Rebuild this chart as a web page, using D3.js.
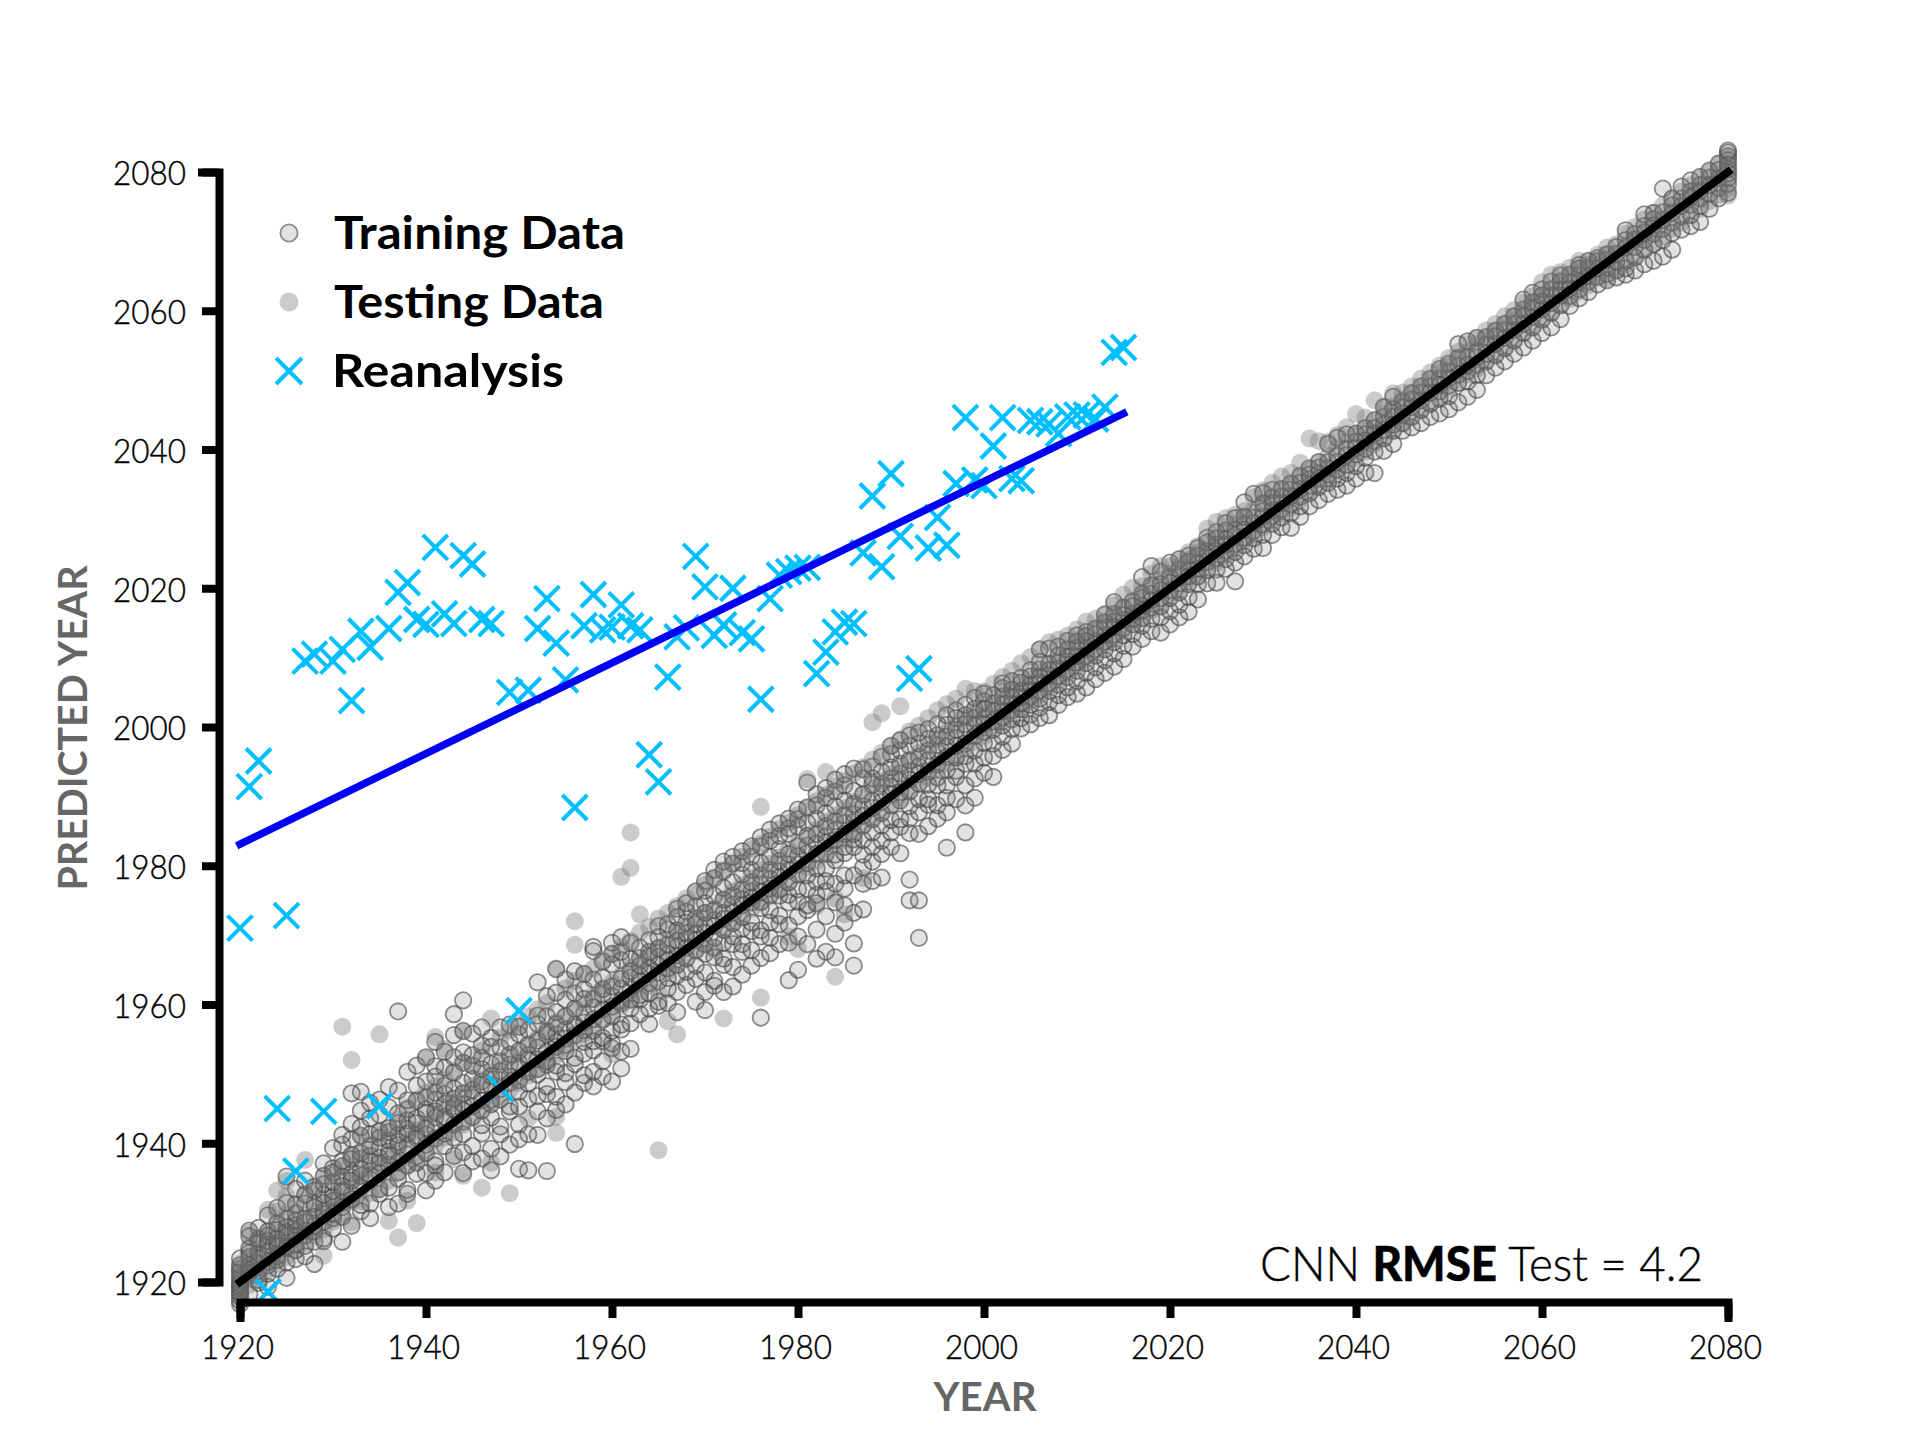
<!DOCTYPE html>
<html><head><meta charset="utf-8">
<script src="https://cdn.jsdelivr.net/npm/d3@7"></script>
<style>html,body{margin:0;background:#fff}svg{display:block}</style></head>
<body><svg id="c" width="1920" height="1440"></svg>
<script>
const xTicks=[1920,1940,1960,1980,2000,2020,2040,2060,2080];
const yTicks=[1920,1940,1960,1980,2000,2020,2040,2060,2080];
const reanalysisYears=[1920,1921,1922,1923,1924,1925,1926,1927,1928,1929,1930,1931,1932,1933,1934,1935,1936,1937,1938,1939,1940,1941,1942,1943,1944,1945,1946,1947,1948,1949,1950,1951,1952,1953,1954,1955,1956,1957,1958,1959,1960,1961,1962,1963,1964,1965,1966,1967,1968,1969,1970,1971,1972,1973,1974,1975,1976,1977,1978,1979,1980,1981,1982,1983,1984,1985,1986,1987,1988,1989,1990,1991,1992,1993,1994,1995,1996,1997,1998,1999,2000,2001,2002,2003,2004,2005,2006,2007,2008,2009,2010,2011,2012,2013,2014,2015];
const reanalysisPred=[1971,1991.4,1995.1,1918.6,1945,1972.8,1936,2009.5,2010.5,1944.6,2009.5,2011.2,2003.8,2013.8,2011.5,1945.4,2014.2,2019.4,2020.8,2015.5,2014.8,2025.9,2016.3,2014.9,2024.7,2023.5,2015.5,2014.9,1947.9,2005,1959.1,2005.3,2014.2,2018.5,2012.1,2006.8,1988.4,2014.6,2019.1,2014,2014.4,2017.6,2014.6,2014,1996,1992.1,2007.2,2013,2014.3,2024.6,2020.2,2013.2,2014.7,2020,2013.6,2012.7,2004,2018.5,2021.9,2022.4,2022.9,2023,2007.7,2010.8,2013.7,2015.1,2014.9,2025.1,2033.3,2023.1,2036.5,2027.5,2007,2008.4,2025.8,2030.2,2026.2,2035.1,2044.6,2035.6,2034.8,2040.5,2044.6,2035.8,2035.5,2044.2,2044,2043.7,2042.3,2044.7,2045,2045,2044.4,2046.1,2054,2054.7];
const trendYears=[1920,2015];
const trendPred=[1983.1,2045.2];
const oneToOne=[1920,2080];
// Training predictions, one list per year
const train1920s=[[1916.8,1917.3,1917.9,1918.3,1918.6,1919.1,1919.4,1919.8,1920.3,1920.8,1921.4,1921.9,1922.4,1923.4],[1918.2,1920.9,1921.3,1921.7,1922.4,1923.6,1924.2,1924.8,1926.6,1927.4],[1919.9,1920.3,1921.6,1922.7,1923.3,1924.1,1925.8,1926.2,1927.8],[1919.3,1921.2,1922.4,1922.9,1924.3,1925.4,1925.9,1926.7,1927.3,1929.6],[1921.9,1923.2,1923.7,1925.1,1925.6,1926.3,1927.5,1928.4,1930.7],[1920.6,1922.8,1924.9,1925.2,1926.6,1927.2,1927.9,1929.1,1931.4,1935.2],[1923.3,1924.6,1925.4,1926.7,1927.3,1928.2,1928.8,1929.9,1931.2,1933.4],[1923.7,1925.2,1926.7,1927.4,1928.6,1929.1,1931.3,1932.6,1934.6],[1922.6,1925.8,1927.3,1928.1,1929.4,1930.7,1931.3,1933.2,1933.7],[1925.9,1926.3,1928.7,1929.8,1930.2,1931.4,1932.6,1934.1,1935.3,1937.1]];
const train1930s=[[1927.7,1929.2,1929.8,1931.7,1932.3,1933.1,1934.4,1935.8,1936.4,1939.3],[1925.8,1929.4,1930.8,1931.4,1933.1,1933.8,1935.2,1936.7,1937.4,1939.8,1941.2],[1928.1,1931.9,1932.6,1934.6,1935.1,1935.7,1937.7,1938.3,1940.6,1942.8,1947.2],[1930.2,1931.1,1933.6,1935.3,1936.2,1937.8,1938.6,1941.1,1942.3,1944.7,1947.4],[1929.2,1931.3,1934.8,1935.4,1937.4,1938.2,1939.6,1941.3,1943.6,1945.8],[1932.7,1933.4,1935.7,1937.2,1937.9,1939.3,1940.8,1941.7,1944.1,1946.3],[1930.8,1933.6,1936.9,1938.3,1938.8,1940.4,1941.6,1942.2,1945.2,1948.1],[1931.3,1934.9,1935.8,1937.3,1939.7,1940.2,1941.2,1942.9,1944.3,1947.6,1959],[1932.7,1933.3,1936.8,1938.4,1939.6,1941.4,1942.1,1943.3,1944.9,1946.2,1950.3],[1935.6,1937.2,1938.1,1940.7,1941.1,1942.9,1943.6,1946.1,1948.3,1951.2]];
const train1940s=[[1933.2,1935.7,1938.6,1939.8,1941.3,1942.2,1944.4,1944.9,1946.6,1948.9,1952.4],[1934.6,1936.8,1937.4,1940.7,1942.1,1943.7,1944.6,1946.3,1947.3,1949.6,1951.1,1954.6],[1935.8,1939.6,1941.4,1943.2,1943.8,1945.7,1947.1,1948.3,1950.9,1953.2],[1938.2,1940.8,1942.7,1944.9,1945.3,1946.4,1947.9,1950.2,1952.4,1955.6,1958.6],[1935.7,1938.7,1941.3,1943.1,1944.7,1945.6,1947.2,1948.7,1951.6,1953.1,1956.2,1960.6],[1937.4,1939.6,1943.8,1945.3,1946.6,1947.7,1949.3,1951.2,1952.7,1955.8],[1937.8,1941.4,1942.6,1944.7,1946.2,1948.4,1948.9,1950.7,1952.3,1954.1,1956.7],[1936.1,1939.2,1943.7,1945.6,1946.3,1948.2,1949.7,1951.4,1953.9,1955.2],[1938.1,1941.3,1942.4,1946.3,1947.8,1949.1,1950.4,1951.8,1953.8,1956.7],[1939.8,1944.6,1945.3,1948.7,1949.6,1951.3,1952.8,1954.6,1957.1]];
const train1950s=[[1936.3,1940.6,1942.7,1945.3,1947.4,1949.1,1950.7,1951.6,1953.3,1955.7,1956.8],[1936.1,1941.3,1946.4,1948.6,1950.3,1952.1,1952.7,1954.2,1956.3],[1941.2,1944.6,1946.8,1949.9,1950.7,1952.1,1953.8,1954.8,1957.2,1958.4,1963.2],[1936,1943.6,1947.1,1948.2,1951.3,1951.8,1953.2,1955.7,1956.1,1958.3,1961.2],[1944.8,1946.7,1950.3,1951.2,1953.9,1954.6,1955.7,1957.2,1958.9,1961.7,1965.1],[1945.6,1948.8,1950.1,1953.3,1954.2,1955.1,1956.4,1958.3,1960.7,1963.6],[1939.9,1947.3,1951.4,1952.3,1955.6,1956.7,1957.1,1959.4,1961.6,1964.8],[1948.7,1949.8,1952.9,1954.6,1956.3,1957.4,1958.7,1960.8,1962.2,1964.4],[1948.2,1950.3,1953.4,1954.7,1956.2,1957.9,1959.6,1960.8,1963.6,1967.7,1968.3],[1949.6,1951.8,1954.7,1955.2,1957.8,1959.3,1961.4,1962.2,1963.9,1966.2]];
const train1960s=[[1948.9,1953.7,1954.4,1956.2,1958.3,1959.7,1961.2,1962.6,1965.8,1967.3,1968.9],[1950.8,1953.2,1956.4,1957.1,1960.2,1960.6,1962.3,1963.7,1966.4,1967.6,1969.7],[1953.6,1957.3,1959.4,1960.7,1962.2,1963.9,1964.8,1966.6,1968.9],[1958.6,1960.7,1961.4,1963.3,1964.2,1965.6,1966.7,1968.2],[1957.2,1959.4,1961.6,1963.1,1964.4,1965.3,1966.9,1967.6,1969.3],[1959.8,1960.4,1963.3,1964.6,1965.7,1966.9,1968.1,1969.7,1971.3],[1960.2,1962.3,1963.8,1965.2,1966.4,1967.3,1968.6,1970.8,1971.6],[1958.9,1961.8,1964.2,1965.7,1967.1,1968.3,1969.2,1970.7,1972.6,1973.8],[1962.8,1964.7,1966.6,1968.2,1969.4,1970.3,1971.8,1973.4,1974.6],[1960.4,1963.7,1965.6,1967.8,1969.3,1970.2,1971.6,1972.4,1974.2,1976.3]];
const train1970s=[[1959.2,1961.8,1964.6,1967.3,1968.7,1970.3,1971.4,1973.2,1974.6,1976.4,1977.8],[1962.7,1963.4,1966.8,1968.2,1969.6,1971.3,1972.2,1973.6,1975.7,1978.2,1979.4],[1961.8,1965.7,1966.6,1968.9,1970.8,1972.3,1973.2,1975.1,1976.8,1979.2,1980.6],[1962.6,1965.4,1968.7,1969.8,1971.7,1973.2,1974.4,1975.7,1977.6,1980.3,1981.3],[1964.3,1967.6,1968.7,1970.9,1972.6,1974.3,1975.2,1976.6,1978.7,1980.4,1982.1],[1965.6,1967.8,1970.6,1971.8,1974.7,1975.4,1976.3,1977.6,1979.4,1981.3,1982.8],[1958.1,1966.7,1969.8,1970.7,1973.9,1974.8,1976.2,1977.3,1978.6,1980.4,1982.8,1984.1],[1967.4,1969.6,1971.8,1973.6,1975.7,1976.7,1978.1,1979.4,1981.3,1983.6,1985.2],[1968.7,1971.6,1972.8,1975.7,1976.6,1978.3,1979.2,1980.7,1982.4,1984.3,1986.1],[1963.5,1968.9,1971.4,1974.7,1975.8,1977.6,1979.3,1980.2,1981.7,1984.6,1985.4,1986.8]];
const train1980s=[[1965,1969.8,1972.7,1974.8,1976.6,1978.7,1980.2,1981.4,1982.8,1985.6,1986.7,1988.1],[1968.7,1973.6,1974.3,1976.7,1978.6,1980.4,1981.8,1982.9,1984.3,1986.2,1988.4,1992],[1966.6,1970.8,1974.6,1975.8,1977.7,1979.6,1981.7,1983.2,1984.6,1986.8,1988.7,1990.3],[1967.6,1972.7,1976.3,1977.8,1979.6,1981.7,1983.3,1984.2,1985.7,1987.6,1989.8,1991.2],[1966.8,1970.2,1974.7,1977.4,1980.8,1981.6,1983.7,1985.2,1986.4,1988.6,1990.7,1992.4],[1971.8,1974.3,1976.7,1978.6,1981.8,1982.7,1984.6,1986.2,1987.3,1989.4,1991.6,1993.2],[1965.6,1968.8,1973.2,1978.6,1982.7,1983.8,1984.6,1986.3,1987.4,1988.9,1990.8,1994],[1973.7,1977.4,1979.8,1981.6,1983.7,1985.8,1987.2,1988.6,1990.3,1992.6,1993.9],[1977.8,1980.6,1982.7,1984.8,1986.7,1988.3,1989.4,1991.7,1992.6,1994.3],[1978.3,1981.7,1983.6,1985.8,1987.6,1989.2,1990.4,1991.8,1993.6,1995.7]];
const train1990s=[[1982.7,1984.8,1986.6,1988.7,1990.3,1991.4,1992.6,1994.2,1996.1,1997.3],[1981.8,1985.6,1986.7,1989.4,1990.6,1992.2,1993.3,1994.7,1996.6,1998.1],[1975,1978,1984.7,1986.8,1988.6,1990.7,1992.4,1993.6,1995.2,1997.3,1998.8],[1969.6,1975,1984.6,1987.7,1989.6,1991.8,1993.2,1994.3,1995.7,1997.6,1999.2],[1985.7,1988.8,1989.6,1991.7,1993.6,1995.2,1996.6,1998.3,1999.7],[1986.8,1988.7,1991.6,1992.7,1994.6,1996.3,1997.4,1998.8,2000.4],[1982.6,1987.7,1989.8,1991.6,1993.8,1995.7,1997.2,1998.6,2000.3,2001.7],[1989.6,1992.8,1993.7,1995.6,1997.3,1998.4,1999.6,2001.3,2002.4],[1984.8,1988.7,1991.6,1994.7,1995.8,1997.6,1999.2,2000.4,2001.7,2003.2],[1989.8,1992.6,1994.7,1996.6,1998.7,2000.2,2001.3,2002.6,2004.2]];
const train2000s=[[1993.4,1995.6,1997.7,1999.3,2000.4,2001.2,2002.6,2003.7,2004.8],[1992.8,1995.8,1997.6,1999.6,2000.8,2002.3,2003.4,2004.6],[1996.7,1998.6,2000.2,2001.4,2002.3,2003.2,2004.4,2005.6,2006.3],[1997.6,1999.7,2001.1,2002.4,2003.3,2004.2,2005.4,2006.6],[1999.8,2001.3,2002.6,2003.4,2004.3,2005.2,2006.4,2007.1],[2000.4,2001.8,2003.2,2004.4,2005.3,2006.1,2007.3,2008.2],[2001.3,2002.8,2004.1,2005.3,2006.4,2007.2,2008.3,2009.4,2011.2],[2001.7,2003.6,2005.2,2006.3,2007.4,2008.2,2009.1,2011.3],[2003.2,2004.6,2006.1,2007.3,2008.4,2009.2,2010.3,2011.6],[2004.3,2005.7,2007.2,2008.3,2009.4,2010.1,2011.2,2012.4]];
const train2010s=[[2004.8,2006.6,2008.1,2009.3,2010.2,2011.4,2012.3,2013.2],[2005.7,2007.8,2009.2,2010.3,2011.2,2012.4,2013.1,2013.7],[2006.9,2008.6,2010.3,2011.2,2012.3,2013.4,2014.2],[2007.8,2009.6,2011.2,2012.3,2013.2,2014.3,2015.1,2016.2],[2008.7,2010.6,2012.2,2013.3,2014.4,2015.2,2016.3,2018],[2009.8,2011.7,2013.2,2014.3,2015.4,2016.1,2017.2],[2011.6,2013.4,2014.8,2015.6,2016.3,2017.4,2018.1],[2012.7,2014.6,2015.7,2016.8,2017.5,2018.6,2019.2,2021.6],[2013.8,2015.6,2017.2,2018.3,2019.2,2020.4,2023.2],[2013.6,2015.8,2017.4,2018.6,2019.7,2020.6,2022.4]];
const train2020s=[[2014.8,2016.7,2018.6,2019.7,2020.8,2021.6,2023.7],[2015.8,2017.6,2019.4,2020.7,2021.6,2022.7,2024.2],[2016.6,2018.7,2020.6,2021.7,2022.6,2023.8,2024.7],[2018.4,2020.6,2021.7,2022.8,2023.6,2024.7,2025.8],[2020.7,2022.6,2023.8,2024.7,2025.4,2026.6,2027.3],[2020.8,2022.7,2024.3,2025.4,2026.3,2027.2,2028.1],[2022.8,2024.2,2025.4,2026.3,2027.1,2028.3,2029.4],[2021,2023.7,2025.2,2026.4,2027.6,2028.4,2030.1],[2024.6,2026.2,2027.3,2028.4,2029.2,2030.3,2032.4],[2025.7,2027.2,2028.3,2029.4,2030.2,2033.6]];
const train2030s=[[2025.8,2027.7,2029.2,2030.3,2031.1,2032.2,2033.7],[2027.7,2029.3,2030.4,2031.2,2032.3,2033.1,2034.2],[2028.8,2030.2,2031.4,2032.3,2033.2,2034.3],[2028.7,2030.8,2032.1,2033.3,2034.2,2035.1],[2030.3,2031.8,2033.2,2034.3,2035.2,2036.2],[2031.8,2033.7,2034.8,2035.7,2036.4,2037.3],[2032.7,2034.6,2035.8,2036.6,2037.4,2038.2],[2033.6,2035.2,2036.4,2037.3,2038.2,2040.8],[2034.2,2035.8,2037.1,2038.2,2039.1,2041.7],[2034.8,2036.6,2037.8,2039.2,2040.1,2042.2]];
const train2040s=[[2035.8,2037.6,2039.3,2040.2,2041.1,2042.3],[2036.7,2038.8,2040.1,2041.3,2042.2,2043.1],[2036.6,2039.7,2041.2,2042.3,2043.1,2044.2],[2039.8,2041.6,2042.8,2043.6,2044.7,2046.1],[2040.8,2042.7,2043.6,2044.7,2045.8,2047.6],[2042.7,2043.8,2045.2,2046.1,2046.9],[2043.2,2044.7,2046.1,2047.2,2048.1],[2043.8,2045.7,2047.1,2048.2,2049.1],[2044.7,2046.6,2048.2,2049.1,2050.2],[2045.2,2047.3,2048.4,2049.3,2050.2,2051.6]];
const train2050s=[[2045.8,2047.7,2049.2,2050.3,2051.2,2052.4],[2046.8,2049.6,2050.8,2052.1,2053.2,2055.2],[2047.6,2049.8,2051.3,2052.2,2053.3,2055.6],[2048.6,2050.7,2052.2,2053.3,2054.1,2056.1],[2050.7,2052.7,2053.8,2055.1,2056.2],[2051.8,2053.6,2055.2,2056.3,2057.1],[2052.7,2054.6,2056.1,2057.2,2058.1],[2053.8,2055.7,2057.2,2058.1,2059.2],[2054.7,2056.8,2058.1,2059.2,2060.2,2061.6],[2055.7,2057.6,2059.1,2060.3,2061.2,2062.6]];
const train2060s=[[2056.8,2058.7,2060.2,2061.3,2062.2,2063.1],[2057.6,2059.7,2061.1,2062.2,2063.1,2064.2],[2058.8,2060.8,2062.2,2063.1,2064.2,2065.1],[2060.7,2062.1,2063.2,2064.1,2065.2],[2061.8,2063.1,2064.2,2065.1,2066.1,2066.6],[2062.7,2064.2,2065.1,2066.1,2067.2],[2063.8,2064.9,2066.1,2067.2,2067.6],[2064.4,2065.3,2066.2,2067.3,2068.1],[2064.8,2065.8,2067.1,2068.2,2069.2],[2065.2,2066.1,2067.2,2069.1,2070.2,2071.6]];
const train2070s=[[2065.8,2067.7,2069.2,2070.3,2071.1],[2066.7,2068.8,2070.2,2071.3,2072.2,2073.9],[2067.2,2069.6,2071.1,2072.3,2073.2,2074.1],[2067.8,2070.2,2071.8,2073.1,2074.2,2077.6],[2068.8,2071.2,2072.7,2074.1,2075.2,2076.2],[2071.7,2073.6,2075.1,2076.2,2077.9],[2072.2,2073.8,2075.3,2076.4,2077.2,2078.8],[2072.8,2075.1,2076.2,2077.3,2078.1,2079.3],[2074.7,2076.8,2078.1,2079.2,2080.2],[2076.2,2077.7,2079.1,2080.3,2081.2]];
const train2080s=[[2077,2078.3,2079.1,2079.8,2080.4,2081.1,2081.7,2082.3,2082.8,2083.1]];
// Testing predictions, one list per year
const test1920s=[[1917.6,1918.9,1920.6,1921.7,1922.6],[1919.6,1921.7,1923.4,1925.2,1927.1],[1920.8,1922.6,1924.7,1926.4],[1921.7,1924.3,1927.2,1930.4],[1922.6,1925.7,1928.6,1930.2,1933.2],[1923.7,1926.8,1929.8,1932.4,1934.6],[1924.6,1927.7,1930.7],[1925.8,1928.7,1932.6,1937.6],[1926.7,1930.2,1933.8],[1923.8,1927.6,1931.3,1935.2]];
const test1930s=[[1928.7,1931.7,1935.6],[1929.6,1933.4,1936.7,1956.8],[1928.6,1931.6,1934.3,1938.2,1952],[1931.7,1935.2,1938.6,1941],[1932.8,1936.3,1939.8],[1933.7,1937.2,1941.4,1955.7],[1928.8,1934.6,1937.7,1942.2],[1926.4,1935.8,1939.2,1943.4],[1931.7,1936.8,1940.6,1945.2],[1928.5,1937.6,1941.8,1946.3]];
const test1940s=[[1938.7,1942.6,1947.3,1952.2],[1935.8,1939.7,1944.3,1948.2,1955.3],[1940.8,1945.2,1949.3,1953.6],[1937.7,1941.6,1945.8,1950.4],[1935.3,1942.7,1947.2,1951.6,1956.1],[1943.6,1948.3,1951.2],[1933.6,1944.8,1949.2,1953.4],[1937.2,1945.7,1950.3,1958],[1946.8,1951.3,1955.2],[1932.8,1947.7,1952.4,1956.3]];
const test1950s=[[1948.7,1953.2,1957.2],[1943.6,1949.8,1954.3,1958.3],[1950.7,1955.2,1959.3],[1951.8,1956.3,1960.2],[1941.5,1943.8,1952.7,1957.4,1965.2],[1953.7,1958.2,1962.3],[1954.8,1959.3,1963.4,1968.6,1972],[1955.8,1960.2,1964.4],[1956.7,1961.3,1965.2],[1957.8,1962.3,1966.4]];
const test1960s=[[1952.8,1958.7,1963.2,1967.3],[1959.8,1964.2,1968.3,1978.4],[1960.7,1965.3,1969.2,1979.7,1984.8],[1961.8,1966.2,1970.4,1973],[1962.7,1967.3,1971.2],[1939,1961.8,1968.2,1972.4],[1957.6,1964.8,1969.3,1973.2],[1955.7,1965.8,1970.3,1974.2],[1966.8,1971.2,1975.3],[1967.7,1972.3,1976.2]];
const test1970s=[[1968.6,1973.2,1977.3],[1967.8,1973.8,1978.3],[1958,1970.7,1975.2,1979.4],[1971.8,1976.3,1980.2],[1972.8,1977.2,1981.3],[1973.8,1978.2,1982.4],[1961,1974.7,1979.3,1983.2,1988.5],[1975.8,1980.3,1984.2],[1976.7,1981.2,1985.3],[1969.8,1977.7,1982.3,1986.2]];
const test1980s=[[1968,1978.8,1983.2,1987.3],[1979.8,1984.3,1988.2,1992.5],[1974.2,1980.7,1985.2,1989.3],[1981.7,1986.3,1990.2,1993.5],[1964,1975.3,1982.8,1987.2,1991.4],[1973,1983.8,1988.3,1992.2],[1984.8,1989.2,1993.3],[1978.2,1985.7,1990.2,1994.2],[1986.8,1991.2,1995.3,2000.7],[1987.7,1992.2,1996.3,2002]];
const test1990s=[[1988.7,1993.2,1997.2],[1989.8,1994.3,1998.2,2003],[1990.7,1995.2,1999.4],[1991.8,1996.3,2000.2],[1992.7,1997.2,2001.3],[1993.8,1998.3,2002.4],[1994.8,1999.2,2003.3],[1995.7,2000.2,2004.1],[1996.8,2001.3,2005.5],[1997.8,2002.2,2005.2]];
const test2000s=[[1998.7,2002.2,2005.1],[1999.8,2003.2,2006.2],[2000.7,2004.1,2007.2],[2001.8,2005.2,2008.1],[2002.7,2006.3,2009.2],[2003.8,2007.2,2010.1],[2004.7,2008.2,2011.1],[2005.8,2009.1,2012.2],[2006.7,2010.2,2012.6],[2007.8,2011.1,2013.2]];
const test2010s=[[2008.7,2012.2,2014.1],[2009.8,2013.2,2015.2],[2010.7,2014.1,2015.6],[2011.8,2015.2,2016.3],[2012.7,2016.1,2017.6],[2013.8,2017.2,2019.1],[2014.8,2018.2,2020.1],[2015.7,2019.1,2020.3],[2016.8,2020.2,2022.1],[2017.7,2021.2,2023.2]];
const test2020s=[[2018.8,2022.1,2023.2],[2019.7,2023.2,2024.1],[2020.8,2024.1,2025.2],[2021.7,2025.2,2026.1],[2022.8,2026.2,2028.6],[2023.7,2027.1,2029.6],[2024.8,2028.2,2030.1],[2025.7,2029.1,2030.6],[2026.8,2030.2,2031.1],[2027.7,2031.2,2033.1]];
const test2030s=[[2028.8,2032.2,2034.1],[2029.7,2033.1,2035.2],[2030.8,2034.2,2036.1],[2031.7,2035.1,2036.6],[2032.8,2036.2,2038.1],[2033.7,2037.1,2041.6],[2034.8,2038.2,2041.2],[2035.7,2039.1,2041.1],[2036.8,2040.2,2042.1],[2037.7,2041.2,2043.2]];
const test2040s=[[2038.8,2042.2,2045.1],[2039.7,2043.1,2044.6],[2040.8,2044.2,2047.1],[2041.7,2045.1,2046.2],[2042.8,2046.2,2048.1],[2043.7,2047.1,2048.2],[2044.8,2048.2,2049.1],[2045.7,2049.1,2050.2],[2046.8,2050.2,2051.1],[2047.7,2051.2,2052.1]];
const test2050s=[[2048.8,2052.1,2053.2],[2049.7,2053.2,2054.1],[2050.8,2054.1,2055.2],[2051.7,2055.2,2056.1],[2052.8,2056.1,2057.2],[2053.7,2057.2,2058.1],[2054.8,2058.1,2059.2],[2055.7,2059.2,2060.1],[2056.8,2060.1,2061.2],[2057.7,2061.2,2062.1]];
const test2060s=[[2058.8,2062.2,2064.1],[2059.7,2063.1,2065.2],[2060.8,2064.2,2065.6],[2061.7,2065.1,2066.2],[2062.8,2066.1,2067.2],[2063.7,2066.6,2067.1],[2064.8,2067.2,2068.1],[2064.7,2068.2,2069.1],[2065.8,2068.1,2069.6],[2066.7,2069.2,2071.1]];
const test2070s=[[2067.8,2070.2,2072.1],[2068.7,2071.1,2073.2],[2069.8,2072.2,2074.1],[2070.7,2073.1,2075.2],[2071.8,2074.2,2076.1],[2072.7,2075.1,2077.2],[2073.8,2076.2,2078.1],[2074.7,2077.1,2079.2],[2075.8,2078.2,2080.1],[2076.7,2079.1,2081.2]];
const test2080s=[[2076.6,2077.6,2079.2,2080.6,2082.1]];

const trainAll=[train1920s,train1930s,train1940s,train1950s,train1960s,train1970s,train1980s,train1990s,train2000s,train2010s,train2020s,train2030s,train2040s,train2050s,train2060s,train2070s,train2080s].flat();
const testAll=[test1920s,test1930s,test1940s,test1950s,test1960s,test1970s,test1980s,test1990s,test2000s,test2010s,test2020s,test2030s,test2040s,test2050s,test2060s,test2070s,test2080s].flat();
const pairs=a=>a.flatMap((list,i)=>list.map(v=>[xTicks[0]+i,v]));

const svg=d3.select('#c');
const x=d3.scaleLinear().domain([1920,2080]).range([240,1728]);
const y=d3.scaleLinear().domain([1920,2080]).range([1282,172]);
const F='Lato, sans-serif';

svg.append('g').selectAll('circle').data(pairs(trainAll)).join('circle')
 .attr('cx',d=>x(d[0])).attr('cy',d=>y(d[1])).attr('r',8.2)
 .attr('fill','#707070').attr('fill-opacity',.2).attr('stroke','#444').attr('stroke-opacity',.6).attr('stroke-width',1.8);
svg.append('g').selectAll('circle').data(pairs(testAll)).join('circle')
 .attr('cx',d=>x(d[0])).attr('cy',d=>y(d[1])).attr('r',9)
 .attr('fill','#707070').attr('fill-opacity',.36);

const cross=(g,px,py,h)=>g.append('path').attr('d',`M${px-h},${py-h}L${px+h},${py+h}M${px-h},${py+h}L${px+h},${py-h}`).attr('stroke','#00bfff').attr('stroke-width',4).attr('fill','none');
const gx=svg.append('g');
reanalysisYears.forEach((yr,i)=>cross(gx,x(yr),y(reanalysisPred[i]),12.5));

const line=d3.line().x(d=>x(d[0])).y(d=>y(d[1]));
svg.append('path').attr('d',line(trendYears.map((t,i)=>[t,trendPred[i]]))).attr('stroke','#0000f5').attr('stroke-width',7.5).attr('stroke-linecap','square').attr('fill','none');
svg.append('path').attr('d',line(oneToOne.map(t=>[t,t]))).attr('stroke','#000').attr('stroke-width',8).attr('stroke-linecap','square').attr('fill','none');

const ax=svg.append('g').attr('transform','translate(0,1302)').call(d3.axisBottom(x).tickValues(xTicks).tickFormat(d3.format('d')).tickSizeOuter(0).tickSize(16).tickPadding(28));
const ay=svg.append('g').attr('transform','translate(219,0)').call(d3.axisLeft(y).tickValues(yTicks).tickFormat(d3.format('d')).tickSizeOuter(0).tickSize(17).tickPadding(16));
[ax,ay].forEach(g=>{
 g.select('.domain').attr('stroke','#000').attr('stroke-width',8).attr('stroke-linecap','square');
 g.selectAll('.tick line').attr('stroke','#000').attr('stroke-width',8);
 g.selectAll('text').attr('font-family',F).attr('font-weight',300).attr('font-size',33).attr('fill','#000').attr('stroke','#000').attr('stroke-width',.4)
  .attr('textLength',73).attr('lengthAdjust','spacingAndGlyphs');
});
ax.selectAll('text').attr('dy',0).attr('y',57).attr('x',-3);
ay.selectAll('text').attr('dy','.39em');

const title=(t,px,py,len,rot)=>svg.append('text').text(t).attr('font-family',F).attr('font-weight',700).attr('font-size',40).attr('fill','#666').attr('text-anchor','middle')
 .attr('textLength',len).attr('lengthAdjust','spacingAndGlyphs').attr('transform',`translate(${px},${py})${rot?' rotate(-90)':''}`);
title('YEAR',985,1411,103,false);
title('PREDICTED YEAR',87,728,325,true);

const legendNames=['Training Data','Testing Data','Reanalysis'];
const legendX=[334,334,332], legendLen=[291,270,232], legendY=[233,302,371];
svg.append('circle').attr('cx',289).attr('cy',legendY[0]).attr('r',8.6).attr('fill','#707070').attr('fill-opacity',.2).attr('stroke','#444').attr('stroke-opacity',.6).attr('stroke-width',1.8);
svg.append('circle').attr('cx',289).attr('cy',legendY[1]).attr('r',9.5).attr('fill','#707070').attr('fill-opacity',.36);
cross(svg,289,legendY[2],13);
legendNames.forEach((n,i)=>svg.append('text').text(n).attr('x',legendX[i]).attr('y',legendY[i]+16).attr('font-family',F).attr('font-weight',700).attr('font-size',46).attr('fill','#000').attr('textLength',legendLen[i]).attr('lengthAdjust','spacingAndGlyphs'));

const ann=svg.append('text').attr('x',1260).attr('y',1281).attr('font-family',F).attr('font-size',47).attr('font-weight',300).attr('fill','#000').attr('stroke','#000').attr('stroke-width',.4).attr('textLength',443).attr('lengthAdjust','spacingAndGlyphs');
ann.append('tspan').text('CNN ');
ann.append('tspan').text('RMSE').attr('font-weight',900);
ann.append('tspan').text(' Test = 4.2');
</script></body></html>
